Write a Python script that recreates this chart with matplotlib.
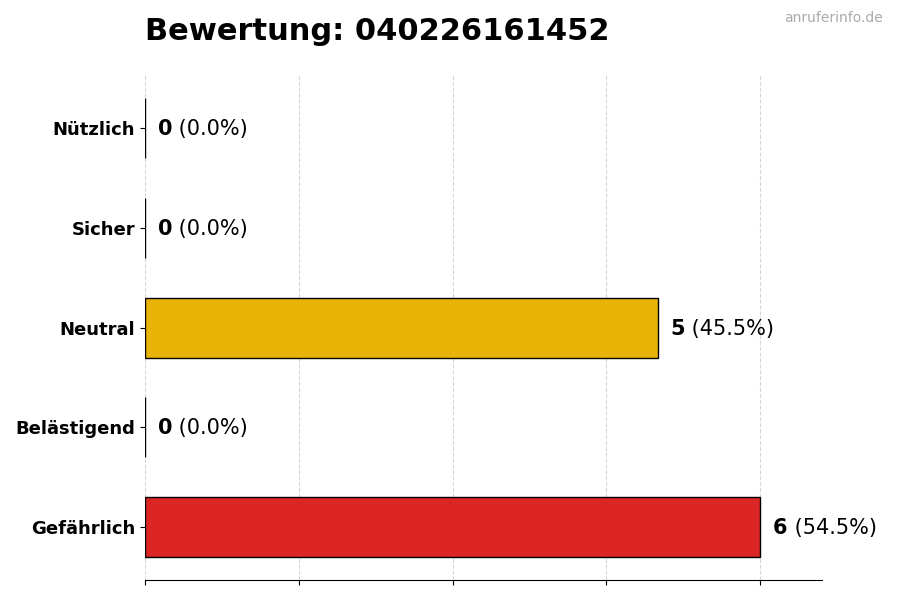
import matplotlib
matplotlib.use('Agg')
import matplotlib.pyplot as plt

# categories from top to bottom as shown
categories = ['Nützlich', 'Sicher', 'Neutral', 'Belästigend', 'Gefährlich']
counts = [0, 0, 5, 0, 6]
percents = [0.0, 0.0, 45.5, 0.0, 54.5]
colors = ['#16a34a', '#2563eb', '#eab308', '#f97316', '#dc2626']
title = 'Bewertung: 040226161452'
watermark = 'anruferinfo.de'

fig, ax = plt.subplots(figsize=(9, 6), dpi=100)
fig.subplots_adjust(left=0.161, right=0.913, top=0.875, bottom=0.033)

# reverse so first category is on top
cats = categories[::-1]
vals = counts[::-1]
pcts = percents[::-1]
cols = colors[::-1]
ypos = list(range(len(cats)))

ax.barh(ypos, vals, height=0.6, color=cols, edgecolor='black', linewidth=1)
ax.set_yticks(ypos)
ax.set_yticklabels(cats, fontsize=13, fontweight='bold')

xmax = max(counts) * 1.1
ax.set_xlim(0, xmax)
ax.set_xticks([max(counts) * i / 4 for i in range(5)])
ax.set_xticklabels([])
ax.grid(axis='x', linestyle='--', color='#cccccc', alpha=0.8)
ax.set_axisbelow(True)

for side in ['top', 'right', 'left']:
    ax.spines[side].set_visible(False)

offset = max(counts) * 0.021
for y, v, p in zip(ypos, vals, pcts):
    t = ax.text(v + offset, y - 0.01, str(v), fontsize=15, fontweight='bold',
                va='center', ha='left')
    ax.annotate(f' ({p:.1f}%)', xy=(1, 0.5), xycoords=t, fontsize=15,
                va='center', ha='left')

fig.text(0.161, 0.947, title, fontsize=22, fontweight='bold', ha='left', va='center')
fig.text(0.981, 0.97, watermark, fontsize=10, color='#aaaaaa', ha='right', va='center')

plt.savefig('out.png')
